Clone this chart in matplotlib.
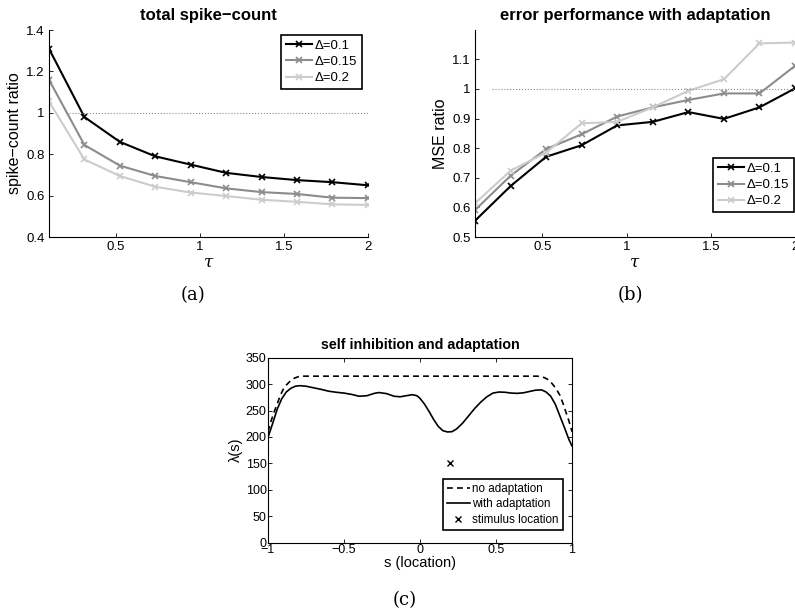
import matplotlib
matplotlib.use('Agg')
import matplotlib.pyplot as plt
import numpy as np

plt.rcParams['font.family'] = ['Liberation Sans', 'DejaVu Sans']
plt.rcParams['mathtext.fontset'] = 'dejavuserif'

# data
tau = [0.1, 0.311, 0.522, 0.733, 0.944, 1.156, 1.367, 1.578, 1.789, 2.0]
labels = ['\u0394=0.1', '\u0394=0.15', '\u0394=0.2']

count_01 = [1.31, 0.98, 0.86, 0.79, 0.75, 0.71, 0.69, 0.675, 0.665, 0.65]
count_015 = [1.16, 0.845, 0.745, 0.695, 0.665, 0.635, 0.617, 0.608, 0.59, 0.588]
count_02 = [1.055, 0.775, 0.695, 0.643, 0.615, 0.598, 0.58, 0.57, 0.558, 0.555]

mse_01 = [0.555, 0.672, 0.771, 0.810, 0.877, 0.889, 0.922, 0.899, 0.938, 1.002]
mse_015 = [0.591, 0.707, 0.797, 0.847, 0.907, 0.938, 0.963, 0.985, 0.985, 1.078]
mse_02 = [0.614, 0.724, 0.785, 0.884, 0.889, 0.938, 0.994, 1.033, 1.154, 1.157]

s_noad = [-1, -0.98, -0.96, -0.94, -0.92, -0.9, -0.88, -0.86, -0.84, -0.82, -0.8, -0.77,
          0.77, 0.8, 0.82, 0.84, 0.86, 0.88, 0.9, 0.92, 0.94, 0.96, 0.98, 1]
lam_noad = [210, 230, 247, 262, 278, 290, 298, 304, 309, 312, 314, 315,
            315, 314, 312, 309, 304, 297, 289, 279, 264, 247, 230, 210]

s_ad = [-1, -0.97, -0.94, -0.91, -0.88, -0.85, -0.82, -0.79, -0.75, -0.7, -0.65, -0.6,
        -0.55, -0.5, -0.45, -0.4, -0.35, -0.3, -0.27, -0.22, -0.17, -0.13, -0.09, -0.05,
        -0.02, 0.0, 0.03, 0.06, 0.09, 0.12, 0.15, 0.18, 0.21, 0.24, 0.28, 0.32, 0.36,
        0.4, 0.44, 0.48, 0.52, 0.56, 0.6, 0.64, 0.68, 0.72, 0.76, 0.8, 0.83, 0.86, 0.89,
        0.92, 0.95, 0.98, 1.0]
lam_ad = [199, 225, 252, 272, 285, 292, 296, 297, 296, 293, 290, 286.5,
          284.5, 283, 280.5, 277, 278, 282.5, 284, 282, 277, 276, 278, 280,
          278, 273, 262, 248, 233, 220, 212, 209.5, 210, 215, 226, 240, 254,
          266, 276, 283, 285, 284.5, 283, 282.5, 283.5, 286, 288.5, 289, 285, 277, 262,
          240, 218, 195, 183]

stim_s = [0.2]
stim_lam = [150]

colors = ['black', '0.55', '0.8']

fig = plt.figure(figsize=(7.95, 6.14), dpi=100)


def style_axes(ax, box, size):
    ax.tick_params(direction='in', labelsize=size, length=3, width=0.6,
                   top=box, right=box, pad=3)
    for sp in ax.spines.values():
        sp.set_linewidth(0.8)
    if not box:
        ax.spines['top'].set_visible(False)
        ax.spines['right'].set_visible(False)


def legend_box(ax, loc, anchor, size):
    leg = ax.legend(loc=loc, bbox_to_anchor=anchor, fontsize=size, fancybox=False,
                    framealpha=1, edgecolor='black', handlelength=2.0,
                    handletextpad=0.2, borderpad=0.35, labelspacing=0.3,
                    borderaxespad=0)
    leg.get_frame().set_linewidth(1.2)
    return leg


# (a) total spike count
ax1 = fig.add_axes([0.0616, 0.614, 0.401, 0.337])
for y, c, lab in zip([count_01, count_015, count_02], colors, labels):
    ax1.plot(tau, y, color=c, lw=1.5, marker='x', ms=4, mew=1.2, label=lab)
ax1.plot([0.2, 2], [1, 1], ls=':', color='0.55', lw=0.8)
ax1.set_xlim(0.1, 2)
ax1.set_ylim(0.4, 1.4)
ax1.set_xticks([0.5, 1, 1.5, 2])
ax1.set_xticklabels(['0.5', '1', '1.5', '2'])
ax1.set_yticks([0.4, 0.6, 0.8, 1.0, 1.2, 1.4])
ax1.set_yticklabels(['0.4', '0.6', '0.8', '1', '1.2', '1.4'])
ax1.set_xlabel(r'$\tau$', fontsize=12, labelpad=1)
ax1.set_ylabel('spike\u2212count ratio', fontsize=11.5, labelpad=3)
ax1.set_title('total spike\u2212count', fontsize=12, fontweight='bold', pad=7)
style_axes(ax1, False, 9.5)
legend_box(ax1, 'upper right', (0.981, 0.976), 9.5)

# (b) error performance
ax2 = fig.add_axes([0.5975, 0.614, 0.4025, 0.337])
for y, c, lab in zip([mse_01, mse_015, mse_02], colors, labels):
    ax2.plot(tau, y, color=c, lw=1.5, marker='x', ms=4, mew=1.2, label=lab)
ax2.plot([0.2, 2], [1, 1], ls=':', color='0.55', lw=0.8)
ax2.set_xlim(0.1, 2)
ax2.set_ylim(0.5, 1.199)
ax2.set_xticks([0.5, 1, 1.5, 2])
ax2.set_xticklabels(['0.5', '1', '1.5', '2'])
ax2.set_yticks([0.5, 0.6, 0.7, 0.8, 0.9, 1.0, 1.1])
ax2.set_yticklabels(['0.5', '0.6', '0.7', '0.8', '0.9', '1', '1.1'])
ax2.set_xlabel(r'$\tau$', fontsize=12, labelpad=1)
ax2.set_ylabel('MSE ratio', fontsize=11.5, labelpad=3)
ax2.set_title('error performance with adaptation', fontsize=12, fontweight='bold', pad=7)
style_axes(ax2, False, 9.5)
legend_box(ax2, 'lower right', (0.997, 0.121), 9.5)

# (c) self inhibition
ax3 = fig.add_axes([0.3371, 0.1161, 0.3824, 0.3014])
ax3.plot(s_noad, lam_noad, color='black', ls=(0, (3.5, 2.5)), lw=1.2, label='no adaptation')
ax3.plot(s_ad, lam_ad, 'k-', lw=1.2, label='with adaptation')
ax3.plot(stim_s, stim_lam, 'kx', ms=4, mew=1.0, label='stimulus location')
ax3.set_xlim(-1, 1)
ax3.set_ylim(0, 350)
ax3.set_xticks([-1, -0.5, 0, 0.5, 1])
ax3.set_xticklabels(['\u22121', '\u22120.5', '0', '0.5', '1'])
ax3.set_yticks(np.arange(0, 351, 50))
ax3.set_xlabel('s (location)', fontsize=10.5, labelpad=0)
ax3.set_ylabel('\u03bb(s)', fontsize=10.5, labelpad=2)
ax3.set_title('self inhibition and adaptation', fontsize=10.3, fontweight='bold', pad=6)
style_axes(ax3, True, 9)
ax3.tick_params(pad=1)
legend_box(ax3, 'lower right', (0.970, 0.07), 8.4)

# panel captions
cap = dict(fontsize=13, family='DejaVu Serif', ha='center', va='center')
fig.text(193 / 795, 1 - 295 / 614, '(a)', **cap)
fig.text(630 / 795, 1 - 295 / 614, '(b)', **cap)
fig.text(405 / 795, 1 - 600 / 614, '(c)', **cap)

plt.savefig('out.png', dpi=100)
